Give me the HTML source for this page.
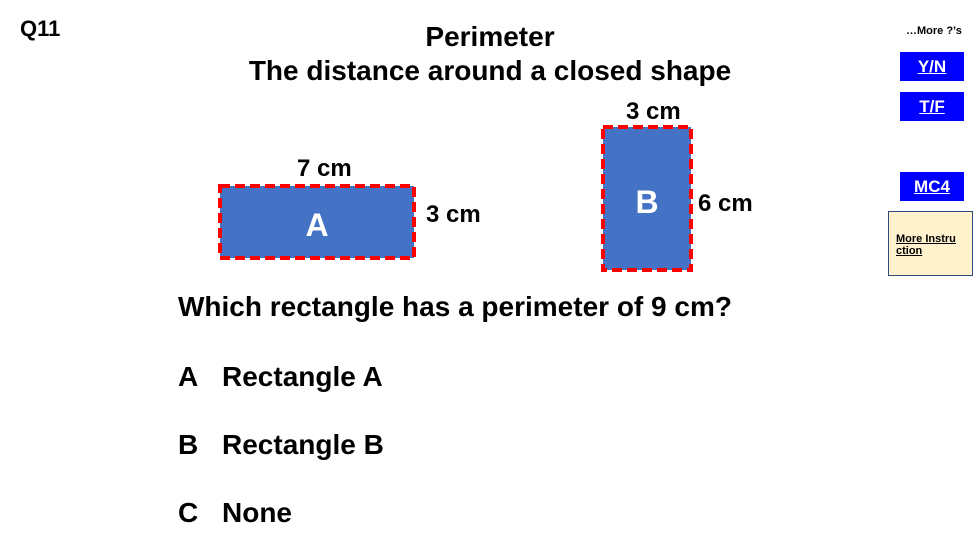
<!DOCTYPE html>
<html><head><style>
body{margin:0;width:978px;height:550px;background:#fff;position:relative;overflow:hidden;font-family:"Liberation Sans",Arial,sans-serif;font-weight:bold;color:#000}
.a{position:absolute;white-space:nowrap}
.btn{position:absolute;left:900px;width:64px;height:29px;background:#0000ff;color:#fff;text-decoration:underline;font-size:17px;text-align:center;line-height:29px}
</style></head><body>
<div class="a" style="left:20px;top:16px;font-size:22px">Q11</div>
<div class="a" style="left:0;width:980px;top:21px;font-size:28px;text-align:center">Perimeter</div>
<div class="a" style="left:0;width:980px;top:55px;font-size:28px;text-align:center">The distance around a closed shape</div>
<div class="a" style="left:906px;top:25px;font-size:11px">…More ?’s</div>
<div class="btn" style="top:52px">Y/N</div>
<div class="btn" style="top:92px">T/F</div>
<div class="btn" style="top:172px">MC4</div>
<div class="a" style="left:888px;top:211px;width:85px;height:65px;box-sizing:border-box;background:#fff2cc;border:1px solid #2f4a7a;font-size:11px;text-decoration:underline;line-height:12px;padding:21px 0 0 7px;white-space:normal">More Instru<br>ction</div>
<svg class="a" style="left:0;top:0" width="978" height="550">
<rect x="220" y="186" width="194" height="72" fill="#4472c4" stroke="#ff0000" stroke-width="4" stroke-dasharray="10,5"/>
<rect x="603" y="127" width="88" height="143" fill="#4472c4" stroke="#ff0000" stroke-width="4" stroke-dasharray="10,5"/>
<text x="317" y="236" fill="#fff" font-family="Liberation Sans" font-weight="bold" font-size="32" text-anchor="middle">A</text>
<text x="647" y="213" fill="#fff" font-family="Liberation Sans" font-weight="bold" font-size="32" text-anchor="middle">B</text>
</svg>
<div class="a" style="left:297px;top:155px;font-size:24px">7 cm</div>
<div class="a" style="left:426px;top:201px;font-size:24px">3 cm</div>
<div class="a" style="left:626px;top:98px;font-size:24px">3 cm</div>
<div class="a" style="left:698px;top:190px;font-size:24px">6 cm</div>
<div class="a" style="left:178px;top:291px;font-size:28px">Which rectangle has a perimeter of 9 cm?</div>
<div class="a" style="left:178px;top:361px;font-size:28px">A</div><div class="a" style="left:222px;top:361px;font-size:28px">Rectangle A</div>
<div class="a" style="left:178px;top:429px;font-size:28px">B</div><div class="a" style="left:222px;top:429px;font-size:28px">Rectangle B</div>
<div class="a" style="left:178px;top:497px;font-size:28px">C</div><div class="a" style="left:222px;top:497px;font-size:28px">None</div>
</body></html>
